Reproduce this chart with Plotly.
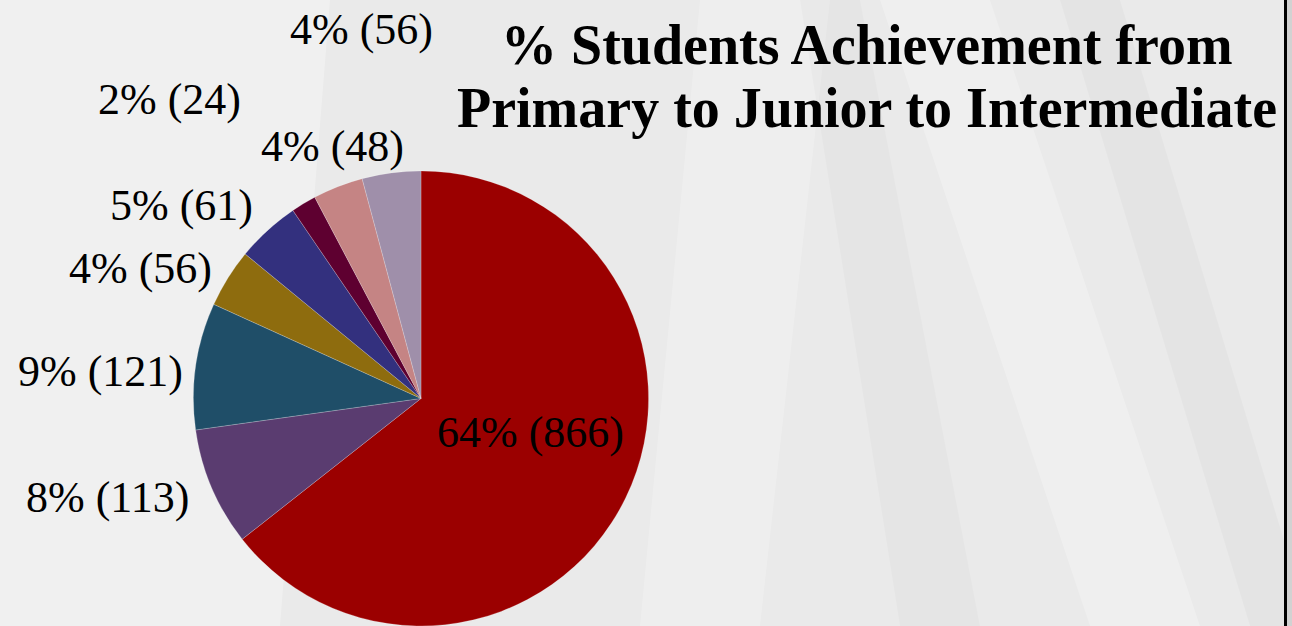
import plotly.graph_objects as go

# Data (clockwise from 12 o'clock)
categories = ["Group A", "Group B", "Group C", "Group D", "Group E", "Group F", "Group G", "Group H"]
values = [866, 113, 121, 56, 61, 24, 48, 56]
colors = ["#9b0000", "#5a3c70", "#1f4e68", "#8e6c0e", "#33307e", "#5e0030", "#c58484", "#9f8faa"]
title_lines = ["% Students Achievement from", "Primary to Junior to Intermediate"]

total = sum(values)
labels_txt = [f"{round(v / total * 100)}% ({v})" for v in values]

W, H = 1292, 626
SERIF = "Liberation Serif, Times New Roman, DejaVu Serif, serif"

fig = go.Figure(go.Pie(
    labels=categories,
    values=values,
    sort=False,
    direction="clockwise",
    rotation=0,
    marker=dict(colors=colors, line=dict(width=0.6, color="rgba(255,255,255,0.35)")),
    textinfo="none",
    hoverinfo="label+value+percent",
    showlegend=False,
    domain=dict(x=[193 / W, 649 / W], y=[0, 0.727]),
))

# label positions (pixel centres) for each slice, in slice order
label_pos = [(530, 432), (108, 497), (100, 372), (140, 268), (182, 205), (169, 99), (332, 146), (361, 30)]
for i, (txt, (px, py)) in enumerate(zip(labels_txt, label_pos)):
    fig.add_annotation(
        x=px / W, y=1 - py / H, xref="paper", yref="paper",
        text=txt, showarrow=False, xanchor="center", yanchor="middle",
        font=dict(family=SERIF, size=44, color="#000000"),
    )

for line, py in zip(title_lines, [45, 108]):
    fig.add_annotation(
        x=867 / W, y=1 - py / H, xref="paper", yref="paper",
        text=f"<b>{line}</b>", showarrow=False, xanchor="center", yanchor="middle",
        font=dict(family=SERIF, size=56, color="#000000"),
    )

# decorative background streaks (soft texture), full height
def px_path(pts):
    return "M " + " L ".join(f"{x / W},{1 - y / H}" for x, y in pts) + " Z"

streaks = [
    ([(0, 0), (330, 0), (280, 626), (0, 626)], "rgba(255,255,255,0.30)"),
    ([(700, 0), (830, 0), (760, 626), (640, 626)], "rgba(255,255,255,0.22)"),
    ([(880, 0), (990, 0), (1200, 626), (1090, 626)], "rgba(255,255,255,0.25)"),
    ([(1060, 0), (1120, 0), (1290, 560), (1290, 626), (1250, 626)], "rgba(0,0,0,0.025)"),
    ([(800, 0), (860, 0), (980, 626), (900, 626)], "rgba(0,0,0,0.018)"),
]
for pts, col in streaks:
    fig.add_shape(type="path", xref="paper", yref="paper", path=px_path(pts),
                  fillcolor=col, line=dict(width=0), layer="below")

# right border strip
fig.add_shape(type="rect", xref="paper", yref="paper", x0=1287 / W, x1=1, y0=0, y1=1,
              fillcolor="#d2d2d2", line=dict(width=0), layer="below")
fig.add_shape(type="line", xref="paper", yref="paper", x0=1285.5 / W, x1=1285.5 / W, y0=0, y1=1,
              line=dict(color="#000000", width=3))

fig.update_layout(
    width=W, height=H,
    margin=dict(l=0, r=0, t=0, b=0),
    paper_bgcolor="#eaeaea",
    plot_bgcolor="#eaeaea",
    font=dict(family=SERIF),
)

fig.write_html("out.html", config={"displayModeBar": False},
               post_script="document.body.style.margin='0';document.body.style.padding='0';")
